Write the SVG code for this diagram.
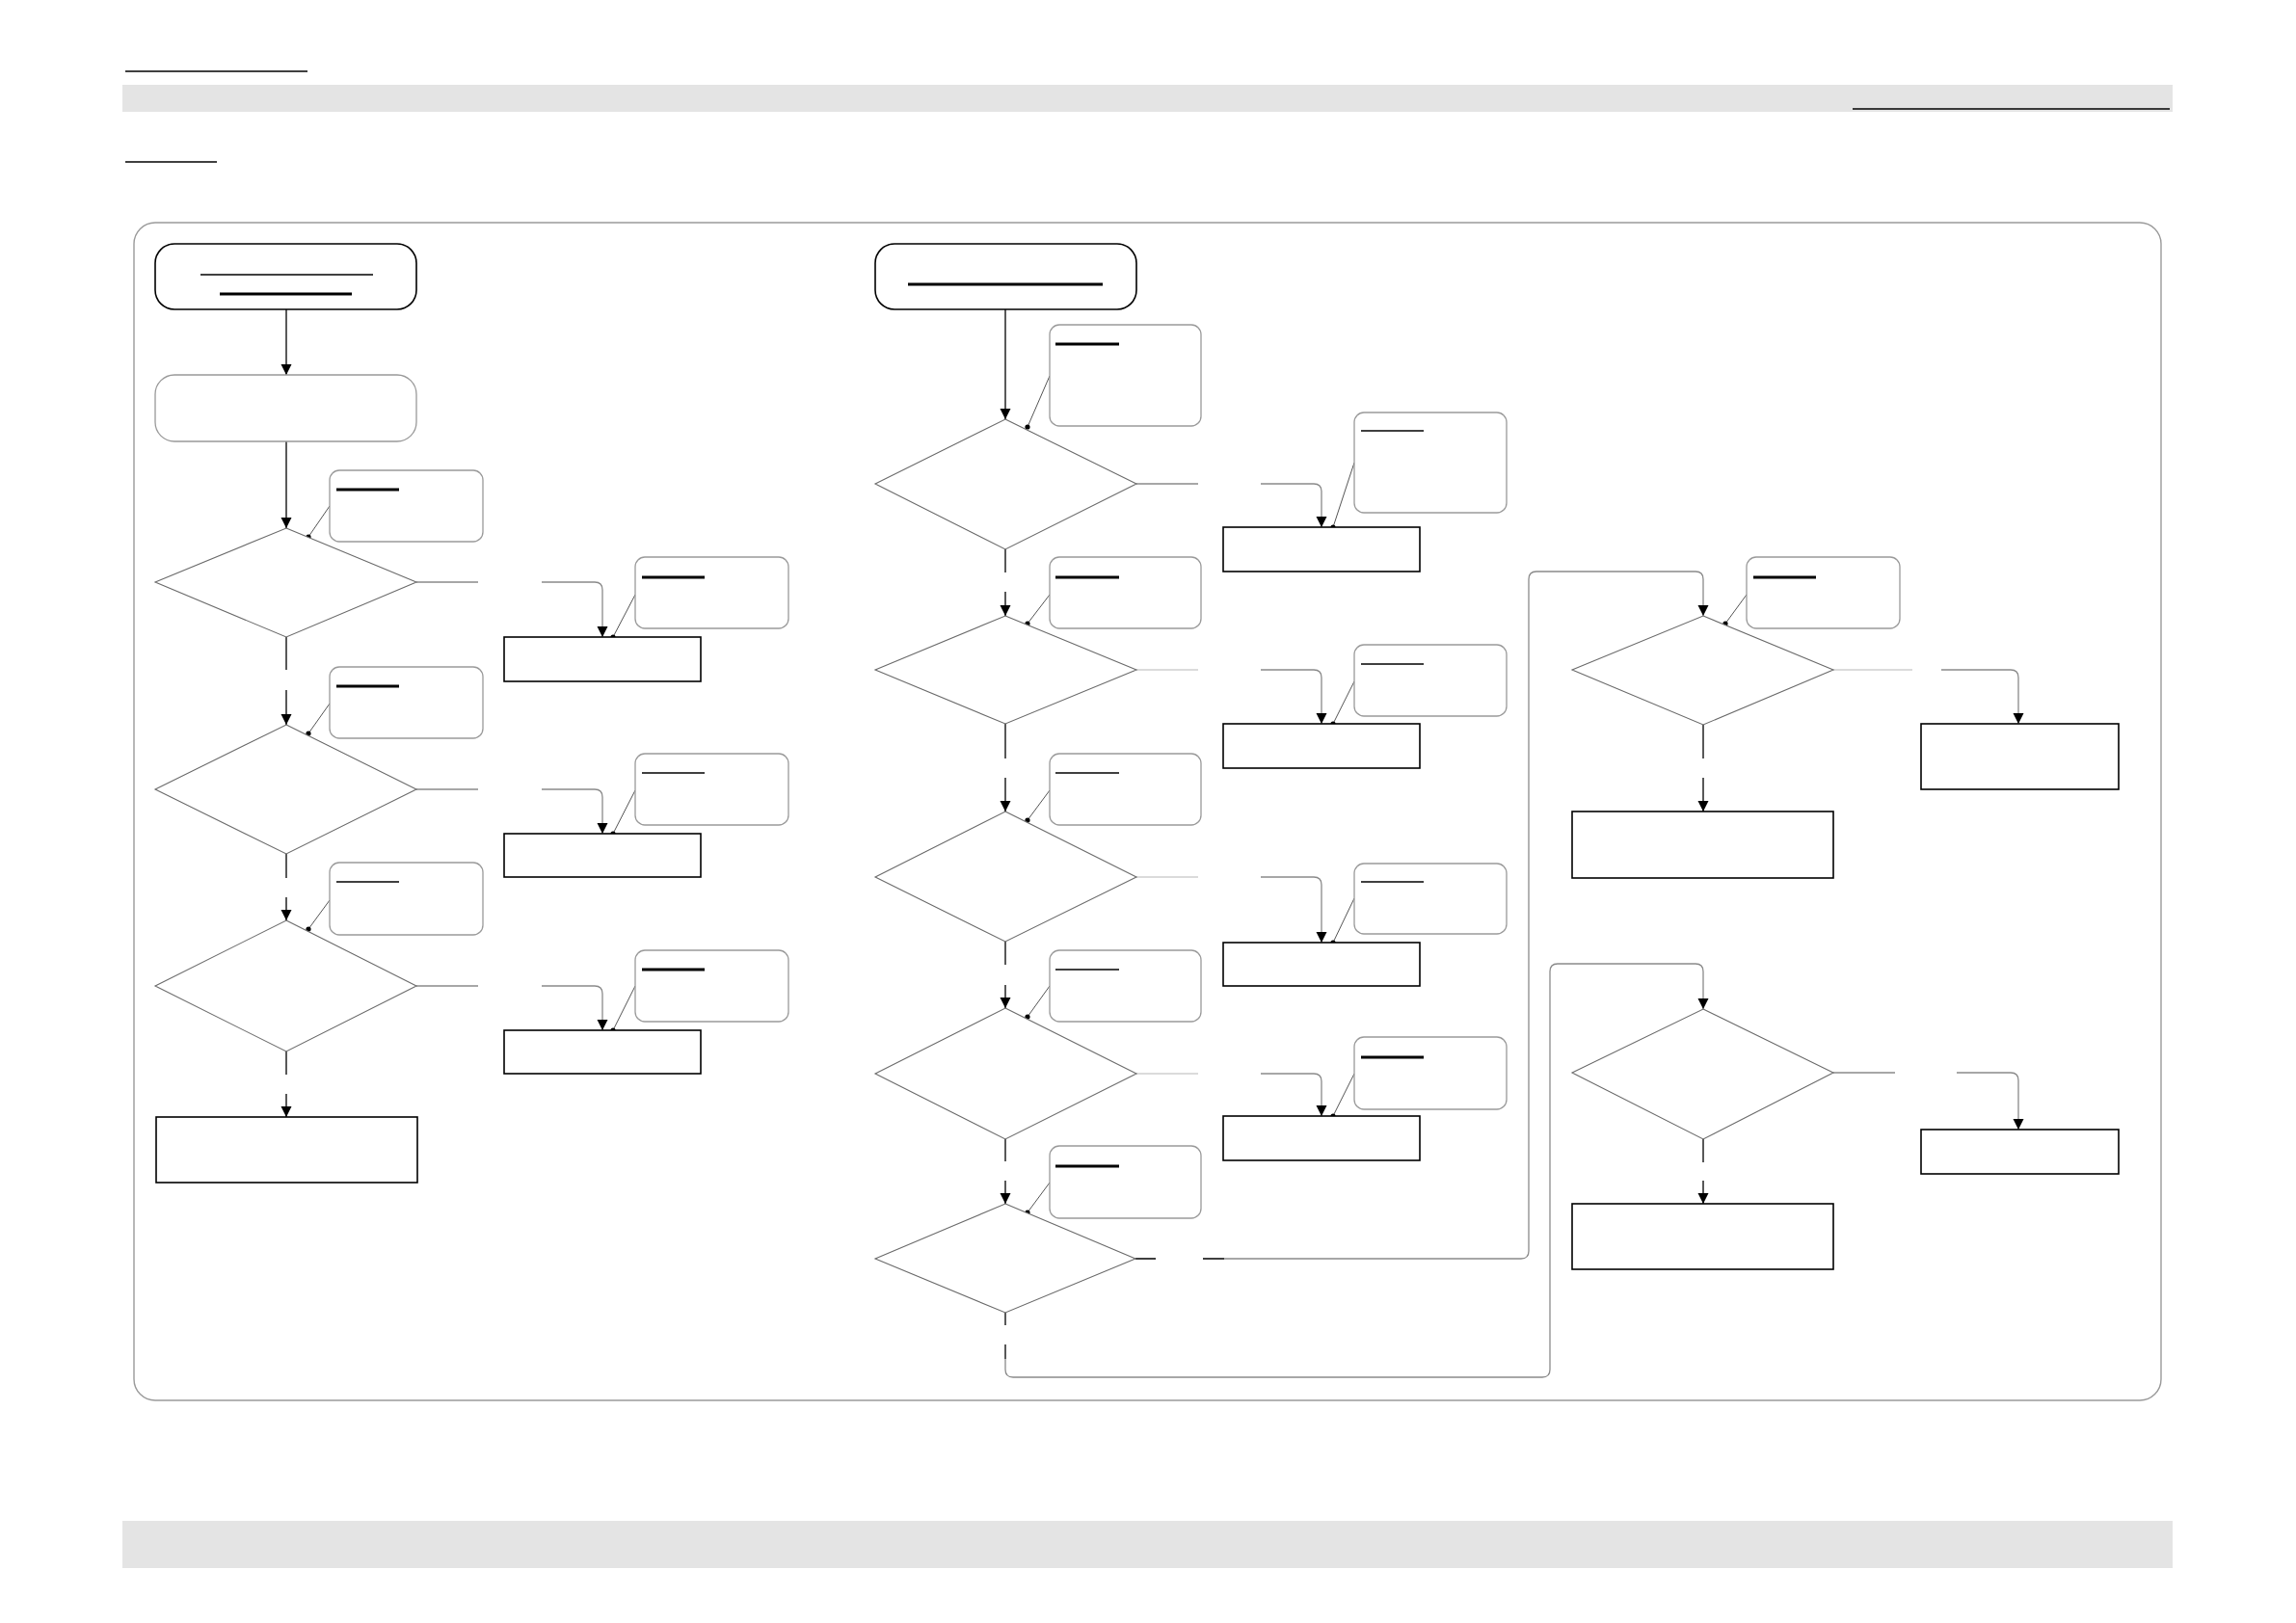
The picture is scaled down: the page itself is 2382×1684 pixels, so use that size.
<svg xmlns="http://www.w3.org/2000/svg" width="2382" height="1684" viewBox="0 0 2382 1684">
<style>
.term{fill:#fff;stroke:#000;stroke-width:1.6}
.soft{fill:#fff;stroke:#999;stroke-width:1.3}
.dia{fill:#fff;stroke:#6a6a6a;stroke-width:1.1}
.box{fill:#fff;stroke:#000;stroke-width:1.6}
.call{fill:#fff;stroke:#9a9a9a;stroke-width:1.3}
.ul{stroke:#000;stroke-width:1.6}
.ulb{stroke:#000;stroke-width:3}
.down{fill:none;stroke:#000;stroke-width:1.3}
.side{fill:none;stroke:#8a8a8a;stroke-width:1.3}
.lite{fill:none;stroke:#cfcfcf;stroke-width:1.6}
.lead{stroke:#555;stroke-width:1}
.dot{fill:#000}
.bar{fill:#e4e4e4}
</style>
<defs>
<marker id="ah" viewBox="0 0 10 10" refX="10" refY="5" markerWidth="11" markerHeight="12" markerUnits="userSpaceOnUse" orient="auto">
<path d="M0,0 L10,5 L0,10 z" fill="#000"/>
</marker>
</defs>
<rect width="2382" height="1684" fill="#fff"/>
<g id="page">
<line x1="130" y1="74" x2="319" y2="74" class="ul"/>
<rect x="127" y="88" width="2127" height="28" class="bar"/>
<line x1="1922" y1="113" x2="2251" y2="113" class="ul"/>
<line x1="130" y1="168" x2="225" y2="168" class="ul"/>
<rect x="127" y="1578" width="2127" height="49" class="bar"/>
<rect x="139" y="231" width="2103" height="1222" rx="22" fill="none" stroke="#9a9a9a" stroke-width="1.4"/>
</g>
<g id="connectors">
<path class="down" marker-end="url(#ah)" d="M297,321 V389"/>
<path class="down" marker-end="url(#ah)" d="M297,458 V548"/>
<path class="down" marker-end="url(#ah)" d="M297,661 V695 M297,716 V752"/>
<path class="down" marker-end="url(#ah)" d="M297,886 V911 M297,931 V955"/>
<path class="down" marker-end="url(#ah)" d="M297,1091 V1115 M297,1135 V1159"/>
<path class="side" marker-end="url(#ah)" d="M432,604 H496 M562,604 H617 Q625,604 625,612 V661"/>
<path class="side" marker-end="url(#ah)" d="M432,819 H496 M562,819 H617 Q625,819 625,827 V865"/>
<path class="side" marker-end="url(#ah)" d="M432,1023 H496 M562,1023 H617 Q625,1023 625,1031 V1069"/>
<line class="lead" x1="342" y1="525" x2="320" y2="557"/>
<line class="lead" x1="342" y1="730" x2="320" y2="761"/>
<line class="lead" x1="342" y1="934" x2="320" y2="964"/>
<line class="lead" x1="659" y1="617" x2="636" y2="661"/>
<line class="lead" x1="659" y1="820" x2="636" y2="865"/>
<line class="lead" x1="659" y1="1023" x2="636" y2="1069"/>
<path class="down" marker-end="url(#ah)" d="M1043,321 V435"/>
<path class="down" marker-end="url(#ah)" d="M1043,570 V594 M1043,614 V639"/>
<path class="down" marker-end="url(#ah)" d="M1043,751 V787 M1043,807 V842"/>
<path class="down" marker-end="url(#ah)" d="M1043,977 V1001 M1043,1022 V1046"/>
<path class="down" marker-end="url(#ah)" d="M1043,1182 V1205 M1043,1225 V1249"/>
<path class="side" marker-end="url(#ah)" d="M1179,502 H1243 M1308,502 H1363 Q1371,502 1371,510 V547"/>
<path class="lite" d="M1179,695 H1243"/>
<path class="side" marker-end="url(#ah)" d="M1308,695 H1363 Q1371,695 1371,703 V751"/>
<path class="lite" d="M1179,910 H1243"/>
<path class="side" marker-end="url(#ah)" d="M1308,910 H1363 Q1371,910 1371,918 V978"/>
<path class="lite" d="M1179,1114 H1243"/>
<path class="side" marker-end="url(#ah)" d="M1308,1114 H1363 Q1371,1114 1371,1122 V1158"/>
<path class="down" d="M1178,1306 H1199 M1248,1306 H1270"/>
<path class="side" marker-end="url(#ah)" d="M1270,1306 H1578 Q1586,1306 1586,1298 V601 Q1586,593 1594,593 H1759 Q1767,593 1767,601 V639"/>
<path class="down" d="M1043,1362 V1375 M1043,1395 V1410"/>
<path class="side" marker-end="url(#ah)" d="M1043,1410 V1421 Q1043,1429 1051,1429 H1600 Q1608,1429 1608,1421 V1008 Q1608,1000 1616,1000 H1759 Q1767,1000 1767,1008 V1047"/>
<line class="lead" x1="1089" y1="390" x2="1066" y2="443"/>
<line class="lead" x1="1089" y1="617" x2="1066" y2="647"/>
<line class="lead" x1="1089" y1="820" x2="1066" y2="851"/>
<line class="lead" x1="1089" y1="1023" x2="1066" y2="1055"/>
<line class="lead" x1="1089" y1="1227" x2="1066" y2="1258"/>
<line class="lead" x1="1405" y1="480" x2="1383" y2="547"/>
<line class="lead" x1="1405" y1="707" x2="1383" y2="751"/>
<line class="lead" x1="1405" y1="932" x2="1383" y2="978"/>
<line class="lead" x1="1405" y1="1114" x2="1383" y2="1158"/>
<path class="lite" d="M1902,695 H1984"/>
<path class="side" marker-end="url(#ah)" d="M2014,695 H2086 Q2094,695 2094,703 V751"/>
<path class="down" marker-end="url(#ah)" d="M1767,752 V787 M1767,807 V842"/>
<path class="side" marker-end="url(#ah)" d="M1902,1113 H1966 M2030,1113 H2086 Q2094,1113 2094,1121 V1172"/>
<path class="down" marker-end="url(#ah)" d="M1767,1182 V1206 M1767,1225 V1249"/>
<line class="lead" x1="1812" y1="617" x2="1790" y2="647"/>
</g>
<g id="dots">
<circle class="dot" cx="320" cy="557" r="2.6"/>
<circle class="dot" cx="320" cy="761" r="2.6"/>
<circle class="dot" cx="320" cy="964" r="2.6"/>
<circle class="dot" cx="636" cy="661" r="2.6"/>
<circle class="dot" cx="636" cy="865" r="2.6"/>
<circle class="dot" cx="636" cy="1069" r="2.6"/>
<circle class="dot" cx="1066" cy="443" r="2.6"/>
<circle class="dot" cx="1066" cy="647" r="2.6"/>
<circle class="dot" cx="1066" cy="851" r="2.6"/>
<circle class="dot" cx="1066" cy="1055" r="2.6"/>
<circle class="dot" cx="1066" cy="1258" r="2.6"/>
<circle class="dot" cx="1383" cy="547" r="2.6"/>
<circle class="dot" cx="1383" cy="751" r="2.6"/>
<circle class="dot" cx="1383" cy="978" r="2.6"/>
<circle class="dot" cx="1383" cy="1158" r="2.6"/>
<circle class="dot" cx="1790" cy="647" r="2.6"/>
</g>
<g id="l_start"><rect class="term" x="161" y="253" width="271" height="68" rx="20"/><line class="ul" x1="208" y1="285" x2="387" y2="285"/><line class="ulb" x1="228" y1="305" x2="365" y2="305"/></g>
<g id="l_proc"><rect class="soft" x="161" y="389" width="271" height="69" rx="20"/></g>
<g id="l_d1"><polygon class="dia" points="297,548 432,604 297,661 161,604"/></g>
<g id="l_d2"><polygon class="dia" points="297,752 432,819 297,886 161,819"/></g>
<g id="l_d3"><polygon class="dia" points="297,955 432,1023 297,1091 161,1023"/></g>
<g id="l_b1"><rect class="box" x="523" y="661" width="204" height="46"/></g>
<g id="l_b2"><rect class="box" x="523" y="865" width="204" height="45"/></g>
<g id="l_b3"><rect class="box" x="523" y="1069" width="204" height="45"/></g>
<g id="l_end"><rect class="box" x="162" y="1159" width="271" height="68"/></g>
<g id="l_c1"><rect class="call" x="342" y="488" width="159" height="74" rx="10"/><line class="ulb" x1="349" y1="508" x2="414" y2="508"/></g>
<g id="l_c2"><rect class="call" x="342" y="692" width="159" height="74" rx="10"/><line class="ulb" x1="349" y1="712" x2="414" y2="712"/></g>
<g id="l_c3"><rect class="call" x="342" y="895" width="159" height="75" rx="10"/><line class="ul" x1="349" y1="915" x2="414" y2="915"/></g>
<g id="l_c4"><rect class="call" x="659" y="578" width="159" height="74" rx="10"/><line class="ulb" x1="666" y1="599" x2="731" y2="599"/></g>
<g id="l_c5"><rect class="call" x="659" y="782" width="159" height="74" rx="10"/><line class="ul" x1="666" y1="802" x2="731" y2="802"/></g>
<g id="l_c6"><rect class="call" x="659" y="986" width="159" height="74" rx="10"/><line class="ulb" x1="666" y1="1006" x2="731" y2="1006"/></g>
<g id="m_start"><rect class="term" x="908" y="253" width="271" height="68" rx="20"/><line class="ulb" x1="942" y1="295" x2="1144" y2="295"/></g>
<g id="m_d1"><polygon class="dia" points="1043,435 1179,502 1043,570 908,502"/></g>
<g id="m_d2"><polygon class="dia" points="1043,639 1179,695 1043,751 908,695"/></g>
<g id="m_d3"><polygon class="dia" points="1043,842 1179,910 1043,977 908,910"/></g>
<g id="m_d4"><polygon class="dia" points="1043,1046 1179,1114 1043,1182 908,1114"/></g>
<g id="m_d5"><polygon class="dia" points="1043,1249 1178,1306 1043,1362 908,1306"/></g>
<g id="m_b1"><rect class="box" x="1269" y="547" width="204" height="46"/></g>
<g id="m_b2"><rect class="box" x="1269" y="751" width="204" height="46"/></g>
<g id="m_b3"><rect class="box" x="1269" y="978" width="204" height="45"/></g>
<g id="m_b4"><rect class="box" x="1269" y="1158" width="204" height="46"/></g>
<g id="m_c1"><rect class="call" x="1089" y="337" width="157" height="105" rx="10"/><line class="ulb" x1="1095" y1="357" x2="1161" y2="357"/></g>
<g id="m_c2"><rect class="call" x="1089" y="578" width="157" height="74" rx="10"/><line class="ulb" x1="1095" y1="599" x2="1161" y2="599"/></g>
<g id="m_c3"><rect class="call" x="1089" y="782" width="157" height="74" rx="10"/><line class="ul" x1="1095" y1="802" x2="1161" y2="802"/></g>
<g id="m_c4"><rect class="call" x="1089" y="986" width="157" height="74" rx="10"/><line class="ul" x1="1095" y1="1006" x2="1161" y2="1006"/></g>
<g id="m_c5"><rect class="call" x="1089" y="1189" width="157" height="75" rx="10"/><line class="ulb" x1="1095" y1="1210" x2="1161" y2="1210"/></g>
<g id="m_c6"><rect class="call" x="1405" y="428" width="158" height="104" rx="10"/><line class="ul" x1="1412" y1="447" x2="1477" y2="447"/></g>
<g id="m_c7"><rect class="call" x="1405" y="669" width="158" height="74" rx="10"/><line class="ul" x1="1412" y1="689" x2="1477" y2="689"/></g>
<g id="m_c8"><rect class="call" x="1405" y="896" width="158" height="73" rx="10"/><line class="ul" x1="1412" y1="915" x2="1477" y2="915"/></g>
<g id="m_c9"><rect class="call" x="1405" y="1076" width="158" height="75" rx="10"/><line class="ulb" x1="1412" y1="1097" x2="1477" y2="1097"/></g>
<g id="r_d1"><polygon class="dia" points="1767,639 1902,695 1767,752 1631,695"/></g>
<g id="r_d2"><polygon class="dia" points="1767,1047 1902,1113 1767,1182 1631,1113"/></g>
<g id="r_b1"><rect class="box" x="1993" y="751" width="205" height="68"/></g>
<g id="r_b2"><rect class="box" x="1631" y="842" width="271" height="69"/></g>
<g id="r_b3"><rect class="box" x="1993" y="1172" width="205" height="46"/></g>
<g id="r_b4"><rect class="box" x="1631" y="1249" width="271" height="68"/></g>
<g id="r_c1"><rect class="call" x="1812" y="578" width="159" height="74" rx="10"/><line class="ulb" x1="1819" y1="599" x2="1884" y2="599"/></g>
</svg>
